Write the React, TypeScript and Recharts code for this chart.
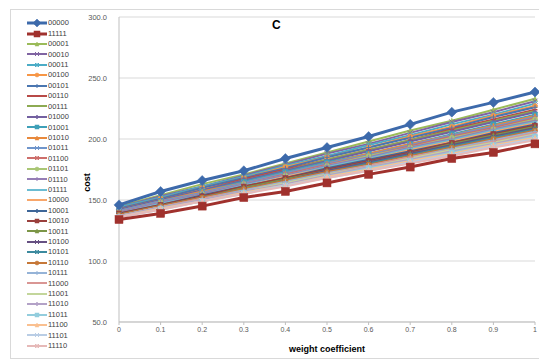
import React from 'react';
import { LineChart, Line, XAxis, YAxis, CartesianGrid, Legend } from 'recharts';

const weights = [0, 0.1, 0.2, 0.3, 0.4, 0.5, 0.6, 0.7, 0.8, 0.9, 1];
const yTicks = [50, 100, 150, 200, 250, 300];
const xTicks = [0, 0.1, 0.2, 0.3, 0.4, 0.5, 0.6, 0.7, 0.8, 0.9, 1];

const s00000 = [146, 157, 166, 174, 184, 193, 202, 212, 222, 230, 238.5];
const s11111 = [134, 139, 145, 152, 157, 164, 171, 177, 184, 189, 196];
const s00001 = [145, 154, 163, 171, 180, 189, 198, 207, 215, 224, 233];
const s00010 = [144, 153, 161, 170, 179, 188, 196, 205, 214, 222, 231];
const s00011 = [144, 152, 161, 169, 178, 186, 195, 203, 212, 220, 229];
const s00100 = [143, 151, 160, 168, 177, 185, 193, 202, 210, 219, 227];
const s00101 = [143, 151, 160, 168, 176, 185, 193, 201, 209, 218, 226];
const s00110 = [142, 150, 158, 167, 175, 183, 191, 199, 208, 216, 224];
const s00111 = [142, 150, 158, 166, 174, 183, 191, 199, 207, 215, 223];
const s01000 = [142, 150, 158, 166, 174, 182, 190, 198, 206, 214, 222];
const s01001 = [141, 149, 157, 165, 173, 181, 188, 196, 204, 212, 220];
const s01010 = [141, 149, 157, 164, 172, 180, 188, 196, 203, 211, 219];
const s01011 = [141, 149, 156, 164, 172, 180, 187, 195, 203, 210, 218];
const s01100 = [140, 148, 155, 163, 171, 179, 186, 194, 202, 209, 217];
const s01101 = [140, 148, 155, 163, 170, 178, 186, 193, 201, 208, 216];
const s01110 = [140, 148, 155, 163, 170, 178, 185, 193, 200, 208, 215];
const s01111 = [139, 147, 154, 162, 169, 177, 184, 192, 199, 207, 214];
const s10000 = [139, 146, 154, 161, 169, 176, 183, 191, 198, 206, 213];
const s10001 = [139, 146, 154, 161, 168, 176, 183, 190, 197, 205, 212];
const s10010 = [139, 146, 153, 161, 168, 175, 182, 189, 197, 204, 211];
const s10011 = [138, 145, 152, 160, 167, 174, 181, 188, 196, 203, 210];
const s10100 = [138, 145, 152, 159, 166, 174, 181, 188, 195, 202, 209];
const s10101 = [138, 145, 152, 159, 166, 173, 180, 187, 194, 201, 208];
const s10110 = [138, 145, 152, 159, 166, 173, 179, 186, 193, 200, 207];
const s10111 = [137, 144, 151, 158, 165, 172, 178, 185, 192, 199, 206];
const s11000 = [137, 144, 151, 157, 164, 171, 178, 185, 191, 198, 205];
const s11001 = [137, 144, 150, 157, 164, 171, 177, 184, 191, 197, 204];
const s11010 = [137, 144, 150, 157, 163, 170, 177, 183, 190, 196, 203];
const s11011 = [136, 143, 149, 156, 162, 169, 176, 182, 189, 195, 202];
const s11100 = [136, 143, 149, 156, 162, 169, 175, 182, 188, 195, 201];
const s11101 = [136, 142, 149, 155, 162, 168, 174, 181, 187, 194, 200];
const s11110 = [136, 142, 149, 155, 161, 168, 174, 180, 186, 193, 199];

const seriesNames = [
  '00000', '11111', '00001', '00010', '00011', '00100', '00101', '00110',
  '00111', '01000', '01001', '01010', '01011', '01100', '01101', '01110',
  '01111', '10000', '10001', '10010', '10011', '10100', '10101', '10110',
  '10111', '11000', '11001', '11010', '11011', '11100', '11101', '11110',
];
const seriesValues = [
  s00000, s11111, s00001, s00010, s00011, s00100, s00101, s00110,
  s00111, s01000, s01001, s01010, s01011, s01100, s01101, s01110,
  s01111, s10000, s10001, s10010, s10011, s10100, s10101, s10110,
  s10111, s11000, s11001, s11010, s11011, s11100, s11101, s11110,
];
const seriesColors = [
  '#3D6AAB', '#A0312D', '#9BBB59', '#8064A2', '#4BACC6', '#F79646', '#4A76B0', '#B84A47',
  '#8DAA52', '#7360A0', '#3FA0B8', '#E8893C', '#6F95CB', '#CD6E6B', '#A9C674', '#957DB5',
  '#6BBCD2', '#F8A66A', '#3E6698', '#9A403D', '#7C9647', '#665082', '#3C8A9E', '#C67838',
  '#95B3D7', '#D99694', '#C3D69B', '#B3A2C7', '#93CDDD', '#FAC090', '#B9CDE5', '#E6B9B8',
];
const markerCycle = ['diamond', 'square', 'triangle', 'x', 'star', 'circle', 'plus', 'dash', 'none'];

const FONT = '"Liberation Sans", Arial, sans-serif';

const data = weights.map((w, j) => {
  const row: Record<string, number> = { w };
  seriesNames.forEach((n, k) => {
    row[n] = seriesValues[k][j];
  });
  return row;
});

function Marker({ type, cx, cy, size, color }: { type: string; cx: number; cy: number; size: number; color: string }) {
  const r = size / 2;
  switch (type) {
    case 'diamond':
      return <polygon points={`${cx},${cy - r} ${cx + r},${cy} ${cx},${cy + r} ${cx - r},${cy}`} fill={color} stroke={color} strokeWidth={0.5} />;
    case 'square':
      return <rect x={cx - r} y={cy - r} width={size} height={size} fill={color} stroke={color} strokeWidth={0.5} />;
    case 'triangle':
      return <polygon points={`${cx},${cy - r} ${cx + r},${cy + r} ${cx - r},${cy + r}`} fill={color} stroke={color} strokeWidth={0.5} />;
    case 'x':
      return (
        <g stroke={color} strokeWidth={1}>
          <line x1={cx - r} y1={cy - r} x2={cx + r} y2={cy + r} />
          <line x1={cx - r} y1={cy + r} x2={cx + r} y2={cy - r} />
        </g>
      );
    case 'star':
      return (
        <g stroke={color} strokeWidth={1}>
          <line x1={cx - r} y1={cy - r} x2={cx + r} y2={cy + r} />
          <line x1={cx - r} y1={cy + r} x2={cx + r} y2={cy - r} />
          <line x1={cx} y1={cy - r} x2={cx} y2={cy + r} />
        </g>
      );
    case 'circle':
      return <circle cx={cx} cy={cy} r={r} fill={color} stroke={color} strokeWidth={0.5} />;
    case 'plus':
      return (
        <g stroke={color} strokeWidth={1}>
          <line x1={cx - r} y1={cy} x2={cx + r} y2={cy} />
          <line x1={cx} y1={cy - r} x2={cx} y2={cy + r} />
        </g>
      );
    case 'dash':
      return <line x1={cx - r} y1={cy} x2={cx + r} y2={cy} stroke={color} strokeWidth={1.5} />;
    default:
      return null;
  }
}

function markerSize(i: number) {
  if (i === 0) return 10;
  if (i === 1) return 8;
  return 5;
}

function renderLegend() {
  return (
    <div style={{ fontFamily: FONT, fontSize: 7.5, color: '#404040', lineHeight: 1 }}>
      {seriesNames.map((n, i) => (
        <div key={n} style={{ height: 10.42, display: 'flex', alignItems: 'center' }}>
          <svg width={22} height={10} style={{ display: 'block' }}>
            <line x1={1} y1={5} x2={21} y2={5} stroke={seriesColors[i]} strokeWidth={i < 2 ? 3 : 2} />
            <Marker type={markerCycle[i % 9]} cx={11} cy={5} size={i < 2 ? markerSize(i) - 2 : 4} color={seriesColors[i]} />
          </svg>
          <span>{n}</span>
        </div>
      ))}
    </div>
  );
}

function CostLabel(props: any) {
  const vb = props.viewBox || { x: 70, y: 17, width: 49, height: 305 };
  const x = vb.x + 17;
  const y = vb.y + vb.height / 2 + 13;
  return (
    <text
      x={x}
      y={y}
      transform={`rotate(-90 ${x} ${y})`}
      textAnchor="middle"
      dominantBaseline="central"
      style={{ fontSize: 9, fontWeight: 'bold', fill: '#000', fontFamily: FONT }}
    >
      cost
    </text>
  );
}

const drawOrder = [...seriesNames.keys()].slice(2).concat([1, 0]);

export default function App() {
  return (
    <div style={{ position: 'absolute', left: 0, top: 0, width: 539, height: 360, background: '#fff', overflow: 'hidden' }}>
      <div style={{ position: 'absolute', left: 10, top: 9, width: 560, height: 348, border: '1px solid #d9d9d9' }} />
      <div
        style={{
          position: 'absolute', left: 272, top: 18, fontFamily: FONT,
          fontWeight: 'bold', fontSize: 12, color: '#000',
        }}
      >
        C
      </div>
      <LineChart width={539} height={360} data={data} margin={{ top: 17, right: 4, bottom: 0, left: 0 }}>
        <CartesianGrid vertical={false} stroke="#d9d9d9" strokeWidth={1} />
        <XAxis
          dataKey="w"
          type="number"
          domain={[0, 1]}
          ticks={xTicks}
          height={38}
          stroke="#bfbfbf"
          tickSize={3}
          tick={{ fontSize: 7, fill: '#595959', fontFamily: FONT }}
          tickFormatter={(v: number) => String(v)}
          label={{
            value: 'weight coefficient', position: 'insideBottom', offset: 8,
            style: { fontSize: 9, fontWeight: 'bold', fill: '#000', fontFamily: FONT },
          }}
        />
        <YAxis
          type="number"
          domain={[50, 300]}
          ticks={yTicks}
          width={49}
          stroke="#bfbfbf"
          tickLine={false}
          tickMargin={6}
          tick={{ fontSize: 7.5, fill: '#595959', fontFamily: FONT }}
          tickFormatter={(v: number) => v.toFixed(1)}
          label={<CostLabel />}
        />
        <Legend
          layout="vertical"
          align="left"
          verticalAlign="top"
          width={70}
          content={renderLegend}
          wrapperStyle={{ left: 26, top: 18 }}
        />
        {drawOrder.map((i) => (
          <Line
            key={seriesNames[i]}
            dataKey={seriesNames[i]}
            type="linear"
            stroke={seriesColors[i]}
            strokeWidth={i < 2 ? 3 : 2}
            isAnimationActive={false}
            dot={(p: any) => (
              <g key={`${seriesNames[i]}-${p.index}`}>
                <Marker type={markerCycle[i % 9]} cx={p.cx} cy={p.cy} size={markerSize(i)} color={seriesColors[i]} />
              </g>
            )}
            activeDot={false}
          />
        ))}
      </LineChart>
    </div>
  );
}
